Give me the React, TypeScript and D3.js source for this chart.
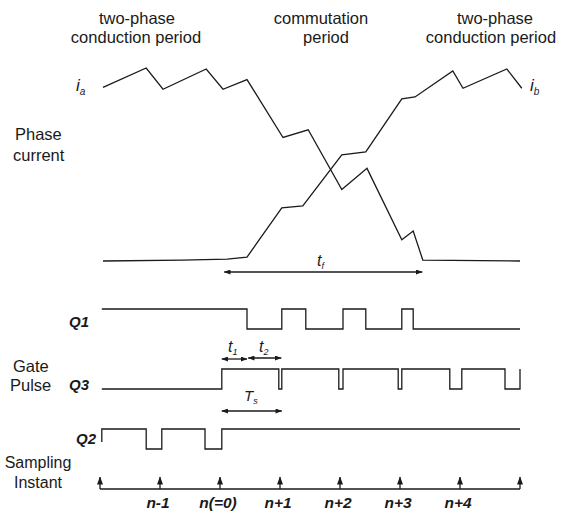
import React from 'react';
import * as d3 from 'd3';

const W = 561;
const H = 519;

// time unit = one sampling period Ts, n(=0) at t = 0
const sampleIndex = [-2, -1, 0, 1, 2, 3, 4, 5];
const sampleLabels = ['', 'n-1', 'n(=0)', 'n+1', 'n+2', 'n+3', 'n+4', ''];

// phase currents (normalised)
const iaTime = [-1.95, -1.23, -0.95, -0.23, 0.05, 0.45, 1.05, 1.47, 2.03, 2.45, 3.03, 3.22, 3.38, 5.0];
const iaValue = [0.9, 1.0, 0.89, 0.995, 0.89, 0.94, 0.64, 0.68, 0.37, 0.48, 0.11, 0.155, 0.005, 0];
const ibTime = [-1.95, -0.63, 0.12, 0.45, 1.03, 1.38, 2.03, 2.43, 3.03, 3.25, 3.88, 4.05, 4.78, 5.03];
const ibValue = [0, 0.005, 0.01, 0.02, 0.275, 0.285, 0.55, 0.565, 0.84, 0.85, 0.985, 0.895, 0.995, 0.895];

// gate pulses (step after)
const q1Time = [-1.97, 0.45, 1.03, 1.43, 2.05, 2.43, 3.03, 3.22, 5.0];
const q1Level = [1, 0, 1, 0, 1, 0, 1, 0, 0];
const q3Time = [-1.97, 0.03, 0.98, 1.03, 1.98, 2.05, 2.97, 3.03, 3.83, 4.03, 4.75, 5.0, 5.0];
const q3Level = [0, 1, 0, 1, 0, 1, 0, 1, 0, 1, 0, 0, 1];
const q2Time = [-1.97, -1.97, -1.23, -0.97, -0.25, 0.03, 5.0];
const q2Level = [0.35, 1, 0, 1, 0, 1, 1];

// interval annotations [start, end]
const tfSpan = [0.07, 3.37];
const t1Span = [0.03, 0.45];
const t2Span = [0.47, 1.02];
const tsSpan = [0.03, 1.03];

const FONT = "'Liberation Sans', Arial, Helvetica, sans-serif";
const INK = '#1a1a1a';

export default function App() {
  const x = d3.scaleLinear().domain([-2, 5]).range([100, 520]);
  const yI = d3.scaleLinear().domain([0, 1]).range([261, 68]);
  const gateRow = (low: number) => d3.scaleLinear().domain([0, 1]).range([low, low - 20]);
  const yQ1 = gateRow(329);
  const yQ3 = gateRow(389);
  const yQ2 = gateRow(449);

  const curLine = d3.line<[number, number]>().x((d) => x(d[0])).y((d) => yI(d[1]));
  const ia = curLine(iaTime.map((t, i) => [t, iaValue[i]]))!;
  const ib = curLine(ibTime.map((t, i) => [t, ibValue[i]]))!;

  const gate = (times: number[], levels: number[], ys: d3.ScaleLinear<number, number>) =>
    d3
      .line<[number, number]>()
      .x((d) => x(d[0]))
      .y((d) => ys(d[1]))
      .curve(d3.curveStepAfter)(times.map((t, i) => [t, levels[i]]))!;

  const sampleBase = 489;
  const arrowTop = 477;

  const stroke = { stroke: INK, strokeWidth: 1.3, fill: 'none' };
  const textStyle = { fontFamily: FONT, fontSize: 16.5, fill: INK } as const;
  const italic = { fontFamily: FONT, fontStyle: 'italic', fill: INK } as const;

  return (
    <svg
      width={W}
      height={H}
      viewBox={`0 0 ${W} ${H}`}
      style={{ position: 'absolute', left: 0, top: 0, background: '#fff' }}
    >
      <defs>
        <marker
          id="ah"
          viewBox="0 0 8 6"
          refX={7.5}
          refY={3}
          markerWidth={7}
          markerHeight={5}
          markerUnits="userSpaceOnUse"
          orient="auto-start-reverse"
        >
          <path d="M0,0 L8,3 L0,6 Z" fill={INK} />
        </marker>
        <marker
          id="ahs"
          viewBox="0 0 8 6"
          refX={7.5}
          refY={3}
          markerWidth={8}
          markerHeight={6}
          markerUnits="userSpaceOnUse"
          orient="auto"
        >
          <path d="M0,0 L8,3 L0,6 Z" fill={INK} />
        </marker>
      </defs>
      <rect x={0} y={0} width={W} height={H} fill="#fff" />

      {/* period titles */}
      <g style={textStyle} textAnchor="middle">
        <text x={137} y={24}>two-phase</text>
        <text x={136} y={43}>conduction period</text>
        <text x={321} y={24}>commutation</text>
        <text x={326} y={43}>period</text>
        <text x={495} y={24}>two-phase</text>
        <text x={491} y={43}>conduction period</text>
      </g>

      {/* row labels */}
      <g style={textStyle}>
        <text x={15} y={140}>Phase</text>
        <text x={13} y={161}>current</text>
        <text x={13} y={372}>Gate</text>
        <text x={10} y={391}>Pulse</text>
        <text x={38} y={468} textAnchor="middle" fontSize={16}>Sampling</text>
        <text x={38} y={488} textAnchor="middle" fontSize={16}>Instant</text>
      </g>

      {/* current labels */}
      <text x={76} y={91} style={{ ...italic, fontSize: 17 }}>
        i<tspan dy={4} fontSize={10}>a</tspan>
      </text>
      <text x={530} y={91} style={{ ...italic, fontSize: 17 }}>
        i<tspan dy={4} fontSize={10}>b</tspan>
      </text>

      {/* currents */}
      <path d={ia} {...stroke} />
      <path d={ib} {...stroke} />

      {/* t_f */}
      <line x1={x(tfSpan[0])} x2={x(tfSpan[1])} y1={272} y2={272} {...stroke} markerStart="url(#ah)" markerEnd="url(#ah)" />
      <text x={317} y={266} style={{ ...italic, fontSize: 16 }}>
        t<tspan dy={3} fontSize={9}>f</tspan>
      </text>

      {/* gate labels */}
      <g style={{ ...italic, fontSize: 15, fontWeight: 'bold' }} textAnchor="end">
        <text x={89} y={327}>Q1</text>
        <text x={89} y={390}>Q3</text>
        <text x={96} y={444}>Q2</text>
      </g>

      {/* gate pulses */}
      <path d={gate(q1Time, q1Level, yQ1)} {...stroke} />
      <path d={gate(q3Time, q3Level, yQ3)} {...stroke} />
      <path d={gate(q2Time, q2Level, yQ2)} {...stroke} />

      {/* t1, t2, Ts */}
      <line x1={x(t1Span[0])} x2={x(t1Span[1])} y1={359} y2={359} {...stroke} markerStart="url(#ah)" markerEnd="url(#ah)" />
      <line x1={x(t2Span[0])} x2={x(t2Span[1])} y1={358} y2={358} {...stroke} markerStart="url(#ah)" markerEnd="url(#ah)" />
      <text x={228} y={352} style={{ ...italic, fontSize: 16 }}>
        t<tspan dy={3} fontSize={9}>1</tspan>
      </text>
      <text x={259} y={352} style={{ ...italic, fontSize: 16 }}>
        t<tspan dy={3} fontSize={9}>2</tspan>
      </text>
      <line x1={x(tsSpan[0])} x2={x(tsSpan[1])} y1={411} y2={411} {...stroke} markerStart="url(#ah)" markerEnd="url(#ah)" />
      <text x={244} y={401} style={{ ...italic, fontSize: 15 }}>
        T<tspan dy={3} fontSize={9}>s</tspan>
      </text>

      {/* sampling instants */}
      <line x1={x(sampleIndex[0])} x2={x(sampleIndex[sampleIndex.length - 1])} y1={sampleBase} y2={sampleBase} {...stroke} />
      {sampleIndex.map((s) => (
        <line key={s} x1={x(s)} x2={x(s)} y1={sampleBase} y2={arrowTop} {...stroke} markerEnd="url(#ahs)" />
      ))}
      <g style={{ ...italic, fontSize: 15.5, fontWeight: 'bold' }} textAnchor="middle">
        {sampleIndex.map((s, i) =>
          sampleLabels[i] ? (
            <text key={s} x={x(s) - 2} y={508}>
              {sampleLabels[i]}
            </text>
          ) : null
        )}
      </g>
    </svg>
  );
}
